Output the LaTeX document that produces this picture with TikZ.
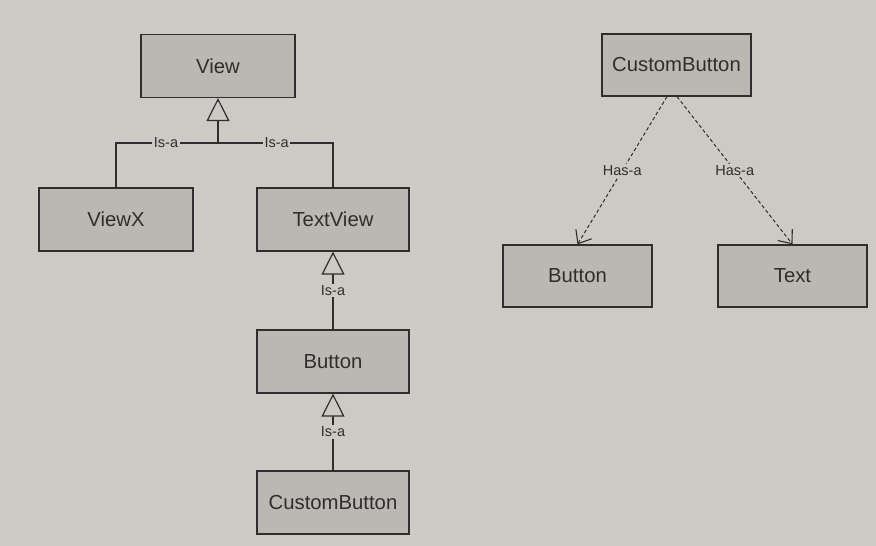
\documentclass[tikz,border=0pt]{standalone}
\usepackage{fontspec}
\setmainfont{Liberation Sans}
\usetikzlibrary{arrows.meta,calc}
\definecolor{bgc}{HTML}{CDCAC5}
\definecolor{boxc}{HTML}{BBB8B3}
\definecolor{ink}{HTML}{2E2E2E}
\tikzset{
  cls/.style={draw=ink, fill=boxc, line width=1.2pt, minimum width=154pt, minimum height=63pt, inner sep=0pt, text=ink, font=\fontsize{20.3}{23}\selectfont},
  rcls/.style={cls, minimum width=149pt, minimum height=62pt},
  isa/.style={draw=ink, line width=1.2pt, -{Triangle[length=23pt,width=23pt,fill=bgc,line width=1.2pt]}},
  plain/.style={draw=ink, line width=1.2pt},
  hasa/.style={draw=ink, line width=1pt, dash pattern=on 3.5pt off 2.5pt, -{Straight Barb[length=11pt,width=18pt,line width=1.1pt,line cap=round]}},
  lbl/.style={fill=bgc, text=ink, inner sep=1.5pt, font=\fontsize{14.5}{16}\selectfont}
}
\begin{document}
\begin{tikzpicture}[x=1pt,y=-1pt]
\fill[bgc] (0,0) rectangle (876,546);
\useasboundingbox (0,0) rectangle (876,546);
% left hierarchy
\node[cls] (view) at (218,66) {View};
\node[cls] (viewx) at (116,219.5) {ViewX};
\node[cls, minimum width=152pt] (textview) at (333,219.5) {TextView};
\node[cls, minimum width=152pt] (button) at (333,361.5) {Button};
\node[cls, minimum width=152pt] (cbutton) at (333,502.5) {CustomButton};
\coordinate (j) at (218,143);
\coordinate (jl) at (116,143);
\coordinate (jr) at (333,143);
\draw[plain] (viewx.north) -- (jl) -- node[lbl, pos=0.49] {Is-a} (j) -- node[lbl, pos=0.51] {Is-a} (jr) -- (textview.north);
\draw[isa] (j) -- (view.south);
\draw[isa] (button.north) -- node[lbl, pos=0.5] {Is-a} (textview.south);
\draw[isa] (cbutton.north) -- node[lbl, pos=0.5] {Is-a} (button.south);
% right composition
\node[rcls] (cb2) at (676.5,65) {CustomButton};
\node[rcls] (btn2) at (577.5,276) {Button};
\node[rcls] (txt) at (792.5,276) {Text};
\coordinate (s1) at ($(cb2.south)+(-9.5,0)$);
\coordinate (s2) at ($(cb2.south)+(0.5,0)$);
\draw[hasa] (s1) -- node[lbl, pos=0.5] {Has-a} (btn2.north);
\draw[hasa] (s2) -- node[lbl, pos=0.5] {Has-a} (txt.north);
\end{tikzpicture}
\end{document}
